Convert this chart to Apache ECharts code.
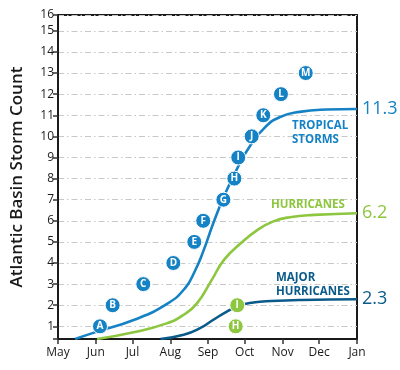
<!DOCTYPE html>
<html>
<head>
<meta charset="utf-8">
<script src="https://cdn.jsdelivr.net/npm/echarts@6/dist/echarts.min.js"></script>
<style>
html,body{margin:0;padding:0;background:#fff;}
#chart{width:400px;height:370px;}
</style>
</head>
<body>
<div id="chart"></div>
<script>
// x = days since May 1
var monthDays = [0, 31, 61, 92, 123, 153, 184, 214, 245];
var monthLabels = ['May', 'Jun', 'Jul', 'Aug', 'Sep', 'Oct', 'Nov', 'Dec', 'Jan'];
var yTopLabel = '16';

var tropicalStorms = [[14,0.4],[32,0.75],[62,1.3],[89,2.05],[104,2.8],[112,3.6],[119,4.55],[127,5.85],[136,7.15],[147,8.5],[158,9.6],[170,10.45],[182,10.92],[198,11.16],[220,11.27],[245,11.3]];
var hurricanes = [[32,0.4],[62,0.72],[89,1.14],[103,1.55],[114,2.1],[126,3.2],[136,4.15],[150,4.95],[163,5.55],[176,5.96],[190,6.17],[210,6.28],[245,6.36]];
var majorHurricanes = [[84,0.4],[103,0.6],[116,0.9],[127,1.3],[138,1.69],[148,1.97],[160,2.13],[175,2.2],[200,2.25],[245,2.28]];
var endValues = ['11.3', '6.2', '2.3'];

var stormLetters = ['A','B','C','D','E','F','G','H','I','J','K','L','M'];
var stormDays = [34.4, 44.8, 69.9, 94.5, 111.7, 119, 135.5, 144.5, 147.7, 158.7, 168.2, 182.7, 203];
var stormCounts = [1,2,3,4,5,6,7,8,9,10,11,12,13];
var hurricaneLetters = ['H','I'];
var hurricaneDays = [145.6, 146.9];
var hurricaneCounts = [1, 2];

var C_TS = '#1582c5', C_H = '#8dc63f', C_MH = '#0b5b8a';
var FONT = 'Open Sans';

function pts(days, vals, letters){
  return days.map(function(d,i){ return {value:[d, vals[i]], name: letters[i]}; });
}

var chart = echarts.init(document.getElementById('chart'));
function lineSeries(name, data, color, endIdx){
  return {
    name: name, type: 'line', data: data, smooth: 0.5,
    showSymbol: false, silent: true, z: 3,
    lineStyle: {color: color, width: 2.6},
    endLabel: {show: true, formatter: function(){ return endValues[endIdx]; },
      color: color, fontSize: 18, fontFamily: FONT, distance: 5}
  };
}
function scatterSeries(data, color){
  return {
    type: 'scatter', data: data, symbol: 'circle', symbolSize: 15, z: 5, silent: true,
    itemStyle: {color: color, borderColor: '#fff', borderWidth: 1, opacity: 1},
    label: {show: true, position: 'inside', formatter: function(p){ return p.name; },
      color: '#fff', fontSize: 10, fontWeight: 'bold', fontFamily: FONT}
  };
}
chart.setOption({
  animation: false,
  textStyle: {fontFamily: FONT},
  grid: {left: 58, top: 15, width: 299, height: 324, show: true, borderColor: '#1a1a1a', borderWidth: 2, outerBoundsMode: 'none'},
  xAxis: {
    type: 'value', min: 0, max: 245,
    axisLine: {show: true, lineStyle: {color: '#1a1a1a', width: 2}},
    axisTick: {show: true, customValues: monthDays, length: 5, lineStyle: {color: '#333', width: 1.5}},
    axisLabel: {customValues: monthDays, color: '#1a1a1a', fontSize: 12, margin: 8,
      formatter: function(v){ var i = monthDays.indexOf(v); return i >= 0 ? monthLabels[i] : ''; }},
    splitLine: {show: false}
  },
  yAxis: {
    type: 'value', min: 0.4, max: 15.75, minInterval: 1, maxInterval: 1,
    name: 'Atlantic Basin Storm Count', nameLocation: 'middle', nameRotate: 90, nameGap: 32,
    nameTextStyle: {fontSize: 17, color: '#1a1a1a', fontFamily: FONT, fontWeight: 600},
    axisLine: {show: true, lineStyle: {color: '#1a1a1a', width: 2}},
    axisTick: {show: true, length: 5, lineStyle: {color: '#333', width: 1.5}},
    axisLabel: {color: '#1a1a1a', fontSize: 12, margin: 4,
      formatter: function(v){ if (v > 15.5) return yTopLabel; if (Math.abs(v - Math.round(v)) > 0.01) return ''; return String(Math.round(v)); }},
    splitLine: {show: true, lineStyle: {color: '#c8c8c8', width: 1, type: [6,3,1.5,3]}}
  },
  graphic: [
    {type: 'text', left: 292, top: 119, style: {text: 'TROPICAL\nSTORMS', fill: C_TS, font: 'bold 11.5px "Open Sans"', align: 'center', lineHeight: 14}, z: 10},
    {type: 'text', left: 271, top: 199, style: {text: 'HURRICANES', fill: C_H, font: 'bold 11.5px "Open Sans"'}, z: 10},
    {type: 'text', left: 276, top: 270, style: {text: 'MAJOR\nHURRICANES', fill: C_MH, font: 'bold 11.5px "Open Sans"', align: 'center', lineHeight: 14.5}, z: 10}
  ],
  series: [
    lineSeries('Tropical Storms', tropicalStorms, C_TS, 0),
    lineSeries('Hurricanes', hurricanes, C_H, 1),
    lineSeries('Major Hurricanes', majorHurricanes, C_MH, 2),
    scatterSeries(pts(stormDays, stormCounts, stormLetters), C_TS),
    scatterSeries(pts(hurricaneDays, hurricaneCounts, hurricaneLetters), C_H)
  ]
});
</script>
</body>
</html>
